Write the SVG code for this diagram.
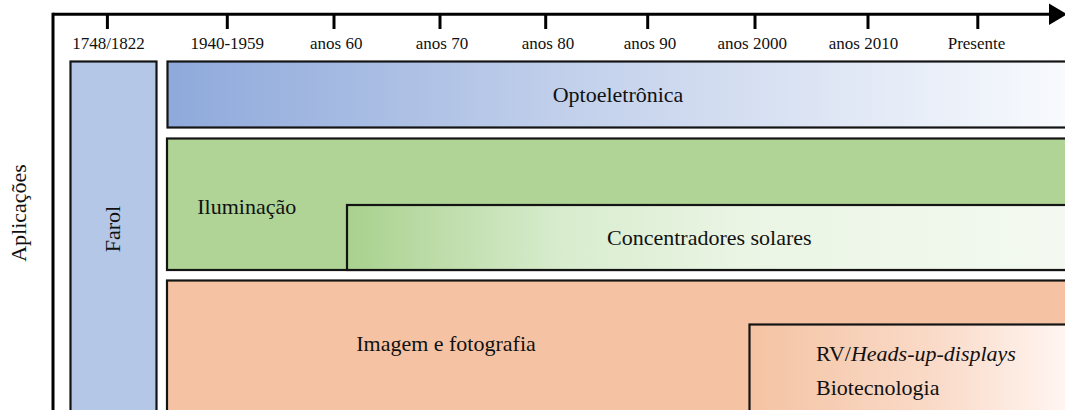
<svg xmlns="http://www.w3.org/2000/svg" width="1065" height="410" viewBox="0 0 1065 410">
<style>
.box{stroke:#141414;stroke-width:2.2}
.tick{stroke:#000;stroke-width:3}
.lbl{font-family:"Liberation Serif","Times New Roman",serif;font-size:17px;fill:#111;text-anchor:middle}
.t{font-family:"Liberation Serif","Times New Roman",serif;font-size:22px;fill:#111}
</style>
<defs>
<linearGradient id="gOpto" gradientUnits="userSpaceOnUse" x1="167" y1="0" x2="1065" y2="0">
<stop offset="0" stop-color="#8EA9DB"/>
<stop offset="0.45" stop-color="#C2D0EB"/>
<stop offset="1" stop-color="#F8FAFD"/>
</linearGradient>
<linearGradient id="gConc" gradientUnits="userSpaceOnUse" x1="347" y1="0" x2="1065" y2="0">
<stop offset="0" stop-color="#A9D18E"/>
<stop offset="0.3" stop-color="#D8ECCE"/>
<stop offset="0.55" stop-color="#EAF5E4"/>
<stop offset="1" stop-color="#F3F9F0"/>
</linearGradient>
<linearGradient id="gRV" gradientUnits="userSpaceOnUse" x1="750" y1="0" x2="1065" y2="0">
<stop offset="0" stop-color="#F4C3A3"/>
<stop offset="0.6" stop-color="#FADBC9"/>
<stop offset="1" stop-color="#FFF5F1"/>
</linearGradient>
</defs>
<rect width="1065" height="410" fill="#fff"/>

<g id="axes">
<line x1="53" y1="14.3" x2="1052" y2="14.3" stroke="#000" stroke-width="3"/>
<line x1="53" y1="12.8" x2="53" y2="412" stroke="#000" stroke-width="3"/>
<polygon points="1049,3.5 1067,14.3 1049,25" fill="#000"/>
<line class="tick" x1="107.4" y1="14" x2="107.4" y2="29"/>
<line class="tick" x1="227.3" y1="14" x2="227.3" y2="29"/>
<line class="tick" x1="334" y1="14" x2="334" y2="29"/>
<line class="tick" x1="440" y1="14" x2="440" y2="29"/>
<line class="tick" x1="545.7" y1="14" x2="545.7" y2="29"/>
<line class="tick" x1="647.7" y1="14" x2="647.7" y2="29"/>
<line class="tick" x1="755" y1="14" x2="755" y2="29"/>
<line class="tick" x1="868" y1="14" x2="868" y2="29"/>
<line class="tick" x1="977.8" y1="14" x2="977.8" y2="29"/>
<text class="lbl" x="108.5" y="48.5">1748/1822</text>
<text class="lbl" x="227.3" y="48.5">1940-1959</text>
<text class="lbl" x="336.3" y="48.5">anos 60</text>
<text class="lbl" x="442" y="48.5">anos 70</text>
<text class="lbl" x="548" y="48.5">anos 80</text>
<text class="lbl" x="650" y="48.5">anos 90</text>
<text class="lbl" x="752.3" y="48.5">anos 2000</text>
<text class="lbl" x="863.5" y="48.5">anos 2010</text>
<text class="lbl" x="976.5" y="48.5">Presente</text>
<text class="t" transform="translate(25.5,213) rotate(-90)" text-anchor="middle">Aplicações</text>
</g>

<g id="farol">
<rect class="box" x="70.5" y="61.5" width="86" height="360" fill="#B4C7E7"/>
<text class="t" transform="translate(120,229) rotate(-90)" text-anchor="middle">Farol</text>
</g>

<g id="optoeletronica">
<rect class="box" x="167.5" y="61.5" width="920" height="66" fill="url(#gOpto)"/>
<text class="t" x="618" y="101.5" text-anchor="middle">Optoeletrônica</text>
</g>

<g id="iluminacao">
<rect class="box" x="167" y="138.5" width="920" height="131.5" fill="#AFD495"/>
<text class="t" x="197.3" y="213.5">Iluminação</text>
</g>

<g id="concentradores">
<rect class="box" x="347" y="205" width="740" height="65" fill="url(#gConc)"/>
<text class="t" x="607" y="245">Concentradores solares</text>
</g>

<g id="imagem">
<rect class="box" x="167" y="280.5" width="920" height="140" fill="#F5C3A3"/>
<text class="t" x="446" y="351" text-anchor="middle">Imagem e fotografia</text>
</g>

<g id="rv">
<rect class="box" x="749.5" y="324.5" width="340" height="100" fill="url(#gRV)"/>
<text class="t" x="816" y="361">RV/<tspan font-style="italic">Heads-up-displays</tspan></text>
<text class="t" x="816" y="395">Biotecnologia</text>
</g>

<g id="connectors"></g>
</svg>
